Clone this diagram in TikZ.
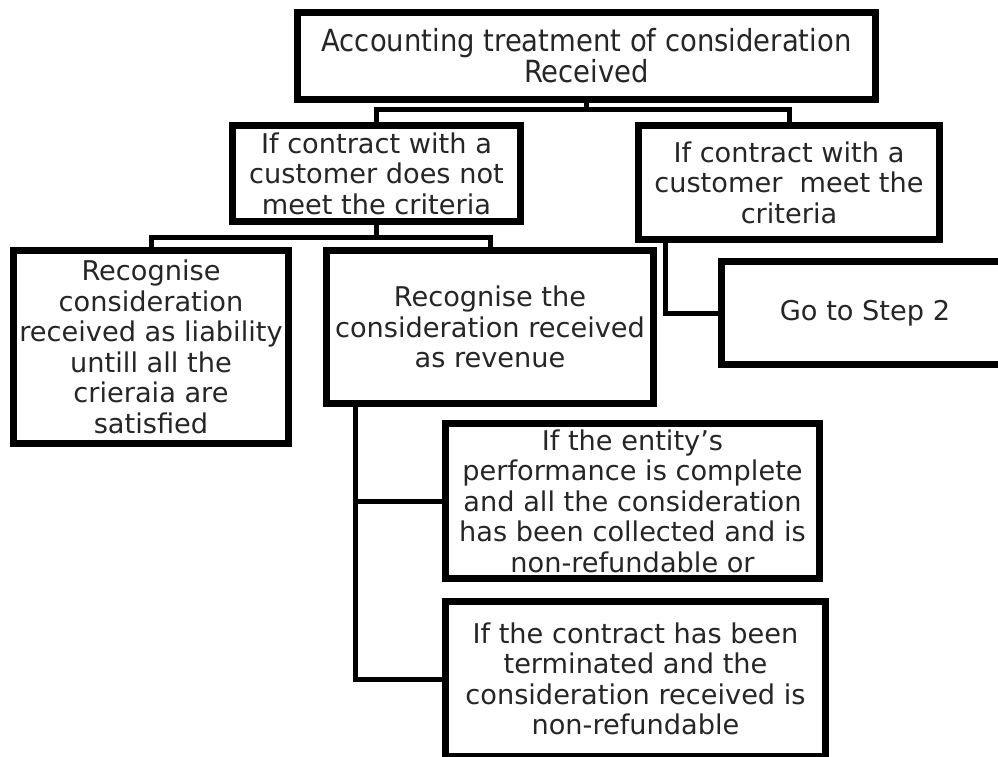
\documentclass[tikz,border=0pt]{standalone}
\usepackage{fontspec}
\setmainfont{DejaVu Sans}
\usetikzlibrary{shadows}

\begin{document}
\begin{tikzpicture}[x=1pt,y=-1pt,
  box/.style={draw=black,line width=7pt,fill=white,align=center,inner sep=0pt,
    text=black!85,font=\fontsize{27.2}{30.5}\selectfont,
    drop shadow={shadow xshift=2pt,shadow yshift=-2pt,opacity=0.25}},
  conn/.style={line width=5pt}]
  \useasboundingbox (0,0) rectangle (998,757);
  \node[box,minimum width=578pt,minimum height=87pt,
    font=\fontsize{30.5}{31}\selectfont\addfontfeature{FakeStretch=0.9}] (top) at (586.5,56)
    {Accounting treatment of consideration\\Received};
  \node[box,minimum width=288pt,minimum height=96pt] (nomeet) at (376.5,173.5)
    {If contract with a\\customer does not\\meet the criteria};
  \node[box,minimum width=301pt,minimum height=114pt] (meet) at (789,182.5)
    {If contract with a\\customer\ \ meet the\\criteria};
  \node[box,minimum width=275pt,minimum height=193pt] (liab) at (151,347)
    {Recognise\\consideration\\received as liability\\untill all the\\crieraia are\\satisfied};
  \node[box,minimum width=327pt,minimum height=153pt] (rev) at (490,327)
    {Recognise the\\consideration received\\as revenue};
  \node[box,minimum width=288pt,minimum height=103pt] (step2) at (865,313)
    {Go to Step 2};
  \node[box,minimum width=374pt,minimum height=155pt] (entity) at (632.5,501)
    {If the entity’s\\performance is complete\\and all the consideration\\has been collected and is\\non-refundable or};
  \node[box,minimum width=380pt,minimum height=155pt] (term) at (635.5,679)
    {If the contract has been\\terminated and the\\consideration received is\\non-refundable};
  \coordinate (bus1) at (586.5,110);
  \coordinate (bus2) at (376.5,237);
  \draw[conn] (top.south) -- (bus1);
  \draw[conn] (nomeet.north) |- (bus1) -| (meet.north);
  \draw[conn] (nomeet.south) -- (bus2);
  \draw[conn] (liab.north) |- (bus2) -| (rev.north);
  \draw[conn] ([xshift=30pt]meet.south west) |- (step2.west);
  \draw[conn] ([xshift=32pt]rev.south west) |- (entity.west);
  \draw[conn] ([xshift=32pt]rev.south west) |- (term.west);
\end{tikzpicture}
\end{document}
